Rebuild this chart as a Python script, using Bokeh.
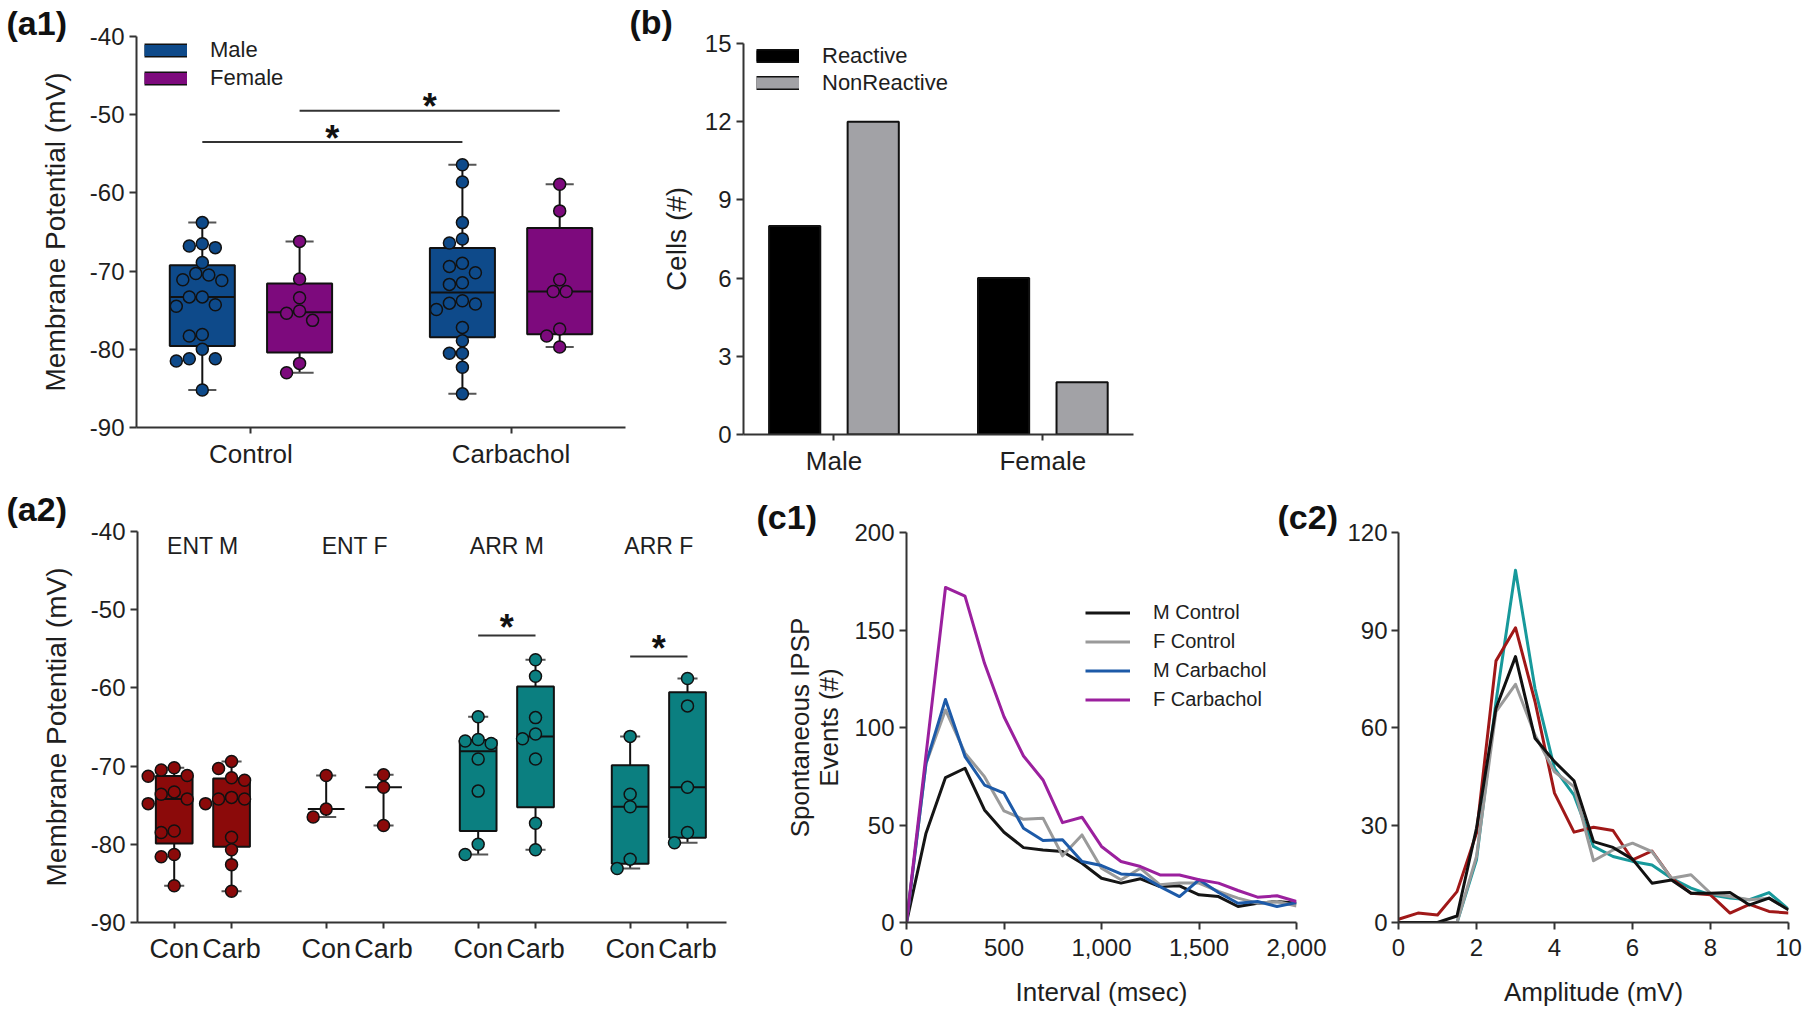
import numpy as np
from bokeh.plotting import figure
from bokeh.models import (Range1d, FixedTicker, NumeralTickFormatter, Legend,
                          LegendItem, Title)
from bokeh.layouts import row, column
from bokeh.core.properties import value
from bokeh.embed import file_html
from bokeh.resources import INLINE

# ------------------------------------------------------------------ data
# (a1) resting membrane potential, mV
a1_categories = ["Control", "Carbachol"]
male_control = [-63.8, -67.0, -66.8, -66.5, -68.9, -70.5, -71.1, -71.2, -70.3, -73.3,
                -73.3, -74.3, -74.5, -78.3, -78.1, -80.0, -81.2, -81.2, -81.5, -85.2]
female_control = [-66.2, -71.0, -73.4, -75.1, -75.4, -76.3, -81.8, -83.0]
male_carbachol = [-56.4, -58.6, -63.8, -65.9, -66.4, -69.0, -69.4, -70.2, -71.5, -71.7,
                  -74.1, -74.2, -74.9, -73.8, -77.2, -78.9, -80.5, -80.5, -82.3, -85.7]
female_carbachol = [-58.9, -62.3, -71.1, -72.6, -72.6, -77.4, -78.3, -79.7]

# (b) reactive / non-reactive cell counts
b_categories = ["Male", "Female"]
reactive = [8, 6]
nonreactive = [12, 2]

# (a2) by region and sex
a2_groups = ["ENT M", "ENT F", "ARR M", "ARR F"]
a2_conditions = ["Con", "Carb"]
ent_m_con = [-70.2, -70.5, -71.2, -71.3, -73.3, -73.6, -74.2, -74.8, -78.3, -78.5,
             -81.3, -81.6, -85.3]
ent_m_carb = [-69.4, -70.3, -71.5, -71.8, -74.0, -74.2, -74.2, -74.8, -79.1, -80.7,
              -82.6, -86.0]
ent_f_con = [-71.2, -75.5, -76.5]
ent_f_carb = [-71.1, -72.7, -77.6]
arr_m_con = [-63.7, -66.6, -66.8, -67.1, -69.1, -73.2, -80.0, -81.3]
arr_m_carb = [-56.4, -58.5, -63.8, -65.9, -66.5, -69.1, -77.3, -80.7]
arr_f_con = [-66.2, -73.6, -75.2, -81.9, -83.1]
arr_f_carb = [-58.8, -62.3, -72.7, -78.5, -79.8]

# (c1) inter-event interval histogram
interval_ms = [0, 100, 200, 300, 400, 500, 600, 700, 800, 900, 1000,
               1100, 1200, 1300, 1400, 1500, 1600, 1700, 1800, 1900, 2000]
m_control = [0, 45.8, 74.3, 79.1, 57.7, 46.3, 38.4, 37.2, 36.4, 30.4, 22.7,
             20.2, 22.4, 18.4, 18.8, 14.2, 13.3, 8.2, 9.9, 10.8, 9.9]
f_control = [0, 81.6, 109.0, 86.8, 74.8, 57.2, 52.9, 53.5, 34.2, 44.9, 27.8,
             21.9, 27.8, 19.3, 20.2, 20.2, 15.9, 12.5, 9.9, 10.8, 8.5]
m_carbachol = [0, 81.6, 114.4, 85.1, 70.5, 66.3, 48.3, 42.0, 42.4, 31.3, 29.2,
               24.9, 24.4, 18.4, 13.3, 21.9, 15.4, 9.9, 10.8, 8.2, 10.2]
f_carbachol = [0, 86.0, 171.8, 167.4, 132.9, 105.5, 85.4, 73.1, 51.2, 54.0, 39.0,
               31.3, 28.7, 24.4, 24.4, 21.9, 20.2, 16.4, 13.0, 13.7, 10.8]
c1_labels = ["M Control", "F Control", "M Carbachol", "F Carbachol"]

# (c2) amplitude histogram
amplitude_mv = [0, 0.5, 1, 1.5, 2, 2.5, 3, 3.5, 4, 4.5, 5,
                5.5, 6, 6.5, 7, 7.5, 8, 8.5, 9, 9.5, 10]
amp_teal = [0, 0, 0, 0, 19.3, 68.0, 108.4, 72.0, 47.4, 39.2, 23.4,
            20.3, 18.8, 17.7, 13.6, 10.6, 8.5, 7.5, 7.0, 9.2, 4.1]
amp_red = [1.0, 2.9, 2.3, 9.5, 27.5, 80.5, 90.7, 68.0, 39.8, 27.8, 29.3,
           28.3, 19.3, 22.0, 13.6, 9.0, 8.5, 2.9, 5.6, 3.4, 2.9]
amp_gray = [0, 0, 0, 0, 20.3, 64.9, 73.3, 57.7, 46.4, 41.8, 19.0,
            22.3, 24.4, 21.8, 13.6, 14.7, 9.0, 8.0, 7.0, 7.5, 3.9]
amp_black = [0, 0, 0, 2.0, 29.0, 65.9, 81.8, 56.7, 49.5, 43.6, 24.9,
             23.1, 19.5, 12.1, 13.1, 9.0, 9.0, 9.2, 5.4, 7.5, 3.9]

panel_tags = ["(a1)", "(b)", "(a2)", "(c1)", "(c2)"]

# ------------------------------------------------------------------ style
FONT = "Liberation Sans"
INK = "#1e1e1e"
AX = "#333333"
LINE = "#111111"
MALE = "#0e4a8a"
FEMALE = "#7d0a7d"
ENT = "#8b0a0a"
ARR = "#0b7f80"
NAN = [float("nan")]


def make_fig(xr, yr, fw, fh, bl, br, bt, bb):
    kw = dict(x_range=xr, y_range=yr, frame_width=fw, frame_height=fh,
              min_border_left=bl, min_border_right=br, min_border_top=bt,
              min_border_bottom=bb, output_backend="svg", toolbar_location=None,
              tools="")
    try:
        p = figure(frame_align=False, **kw)
    except Exception:
        p = figure(**kw)
    p.xgrid.visible = False
    p.ygrid.visible = False
    p.outline_line_color = None
    for ax in (p.xaxis[0], p.yaxis[0]):
        ax.axis_line_color = AX
        ax.axis_line_width = 2
        ax.major_tick_line_color = AX
        ax.major_tick_line_width = 2
        ax.major_tick_in = 0
        ax.major_tick_out = 7
        ax.minor_tick_line_color = None
        ax.major_label_text_font = FONT
        ax.major_label_text_color = INK
        ax.major_label_text_font_size = "24px"
        ax.major_label_standoff = 5
        ax.axis_label_text_font = FONT
        ax.axis_label_text_font_style = "normal"
        ax.axis_label_text_color = INK
    return p


def panel_title(p, text, offset, standoff):
    kw = dict(text=text, align="left", vertical_align="middle", offset=offset,
              text_font=FONT, text_font_style="bold", text_font_size="34px",
              text_color="#111111")
    try:
        t = Title(standoff=standoff, **kw)
    except ValueError:
        t = Title(standoff=0, **kw)
    p.add_layout(t, "above")


def swarm(vals, px_per_x, px_per_y, diam=12.5, step=6.5):
    order = sorted(range(len(vals)), key=lambda i: -vals[i])
    cands = [0.0]
    for m in range(1, 14):
        cands += [-m * step, m * step]
    placed = []
    out = [0.0] * len(vals)
    for i in order:
        yy = vals[i] * px_per_y
        chosen = cands[-1]
        for c in cands:
            if all((c - a) ** 2 + (yy - b) ** 2 >= diam ** 2 for a, b in placed):
                chosen = c
                break
        placed.append((chosen, yy))
        out[i] = chosen / px_per_x
    return out


def draw_box(p, x, vals, color, box_w, cap_w, ppx, ppy, dot=12):
    q1, med, q3 = np.percentile(vals, [25, 50, 75], method="weibull")
    lo, hi = min(vals), max(vals)
    if len(vals) >= 4:
        p.segment(x0=[x, x], y0=[lo, q3], x1=[x, x], y1=[q1, hi],
                  line_color=LINE, line_width=2)
    else:
        p.segment(x0=[x], y0=[lo], x1=[x], y1=[hi], line_color=LINE, line_width=2)
    p.segment(x0=[x - cap_w / 2, x - cap_w / 2], y0=[lo, hi],
              x1=[x + cap_w / 2, x + cap_w / 2], y1=[lo, hi],
              line_color="#555555", line_width=2)
    if len(vals) >= 4:
        p.quad(left=[x - box_w / 2], right=[x + box_w / 2], bottom=[q1], top=[q3],
               fill_color=color, line_color=LINE, line_width=2)
    p.segment(x0=[x - box_w / 2], y0=[med], x1=[x + box_w / 2], y1=[med],
              line_color=LINE, line_width=2)
    offs = swarm(vals, ppx, ppy)
    p.scatter([x + o for o in offs], vals, size=dot, fill_color=color,
              line_color=LINE, line_width=1.5)


def patch_legend(p, entries, x, y, glyph_w, standoff, row_h, size):
    items = []
    for label, color in entries:
        r1 = p.line(x=NAN, y=NAN, line_color=LINE, line_width=14)
        r2 = p.line(x=NAN, y=NAN, line_color=color, line_width=11)
        items.append(LegendItem(label=label, renderers=[r1, r2]))
    leg = Legend(items=items, location=(x, y), padding=0, margin=0, spacing=0,
                 border_line_color=None, background_fill_alpha=0,
                 glyph_width=glyph_w, glyph_height=row_h, label_height=row_h,
                 label_standoff=standoff, label_text_font=FONT,
                 label_text_font_size=size, label_text_color=INK)
    p.add_layout(leg)


# ------------------------------------------------------------------ (a1)
pa1 = make_fig(Range1d(0.56, 2.44), Range1d(-90, -40), 489, 391, 136, 3, 36, 51)
pa1.yaxis.ticker = FixedTicker(ticks=[-90, -80, -70, -60, -50, -40])
pa1.yaxis.major_label_overrides = {t: str(t) for t in [-90, -80, -70, -60, -50, -40]}
pa1.xaxis.ticker = FixedTicker(ticks=[1, 2])
pa1.xaxis.major_label_overrides = {1: a1_categories[0], 2: a1_categories[1]}
pa1.xaxis.major_label_text_font_size = "26px"
pa1.xaxis.major_tick_out = 6
pa1.yaxis.axis_label = "Membrane Potential (mV)"
pa1.yaxis.axis_label_text_font_size = "28px"
pa1.yaxis.axis_label_standoff = 16
off = 0.187
A1_PPX, A1_PPY = 489 / 1.88, 391 / 50
draw_box(pa1, 1 - off, male_control, MALE, 0.25, 0.108, A1_PPX, A1_PPY)
draw_box(pa1, 1 + off, female_control, FEMALE, 0.25, 0.108, A1_PPX, A1_PPY)
draw_box(pa1, 2 - off, male_carbachol, MALE, 0.25, 0.108, A1_PPX, A1_PPY)
draw_box(pa1, 2 + off, female_carbachol, FEMALE, 0.25, 0.108, A1_PPX, A1_PPY)
pa1.segment(x0=[1 - off, 1 + off], y0=[-53.5, -49.5], x1=[2 - off, 2 + off],
            y1=[-53.5, -49.5], line_color=AX, line_width=2)
pa1.text(x=[1.5 - off, 1.5 + off], y=[-53.0, -49.0], text=["*", "*"],
         text_font=value(FONT), text_font_style="bold", text_font_size="36px",
         text_align="center", text_baseline="alphabetic", text_color="#111111")
patch_legend(pa1, [("Male", MALE), ("Female", FEMALE)], 8, 335, 43, 23, 28, "22px")
panel_title(pa1, panel_tags[0], -130, -13)

# ------------------------------------------------------------------ (b)
pb = make_fig(Range1d(0.567, 2.434), Range1d(0, 15), 390, 391, 115, 27, 42, 45)
pb.yaxis.ticker = FixedTicker(ticks=[0, 3, 6, 9, 12, 15])
pb.xaxis.ticker = FixedTicker(ticks=[1, 2])
pb.xaxis.major_label_overrides = {1: b_categories[0], 2: b_categories[1]}
pb.xaxis.major_label_text_font_size = "26px"
pb.xaxis.major_tick_out = 6
pb.yaxis.axis_label = "Cells (#)"
pb.yaxis.axis_label_text_font_size = "28px"
pb.yaxis.axis_label_standoff = 10
bx = [1, 2]
pb.vbar(x=[v - 0.188 for v in bx], top=reactive, width=0.245, bottom=0,
        fill_color="#000000", line_color=LINE, line_width=2)
pb.vbar(x=[v + 0.188 for v in bx], top=nonreactive, width=0.245, bottom=0,
        fill_color="#a2a2a6", line_color=LINE, line_width=2)
patch_legend(pb, [("Reactive", "#000000"), ("NonReactive", "#a2a2a6")],
             13, 338, 43, 23, 27, "22px")
panel_title(pb, panel_tags[1], -114, 3)

# ------------------------------------------------------------------ (a2)
pa2 = make_fig(Range1d(-12.8, 192.6), Range1d(-90, -40), 589, 391, 137, 24, 52, 91)
pa2.yaxis.ticker = FixedTicker(ticks=[-90, -80, -70, -60, -50, -40])
pa2.yaxis.major_label_overrides = {t: str(t) for t in [-90, -80, -70, -60, -50, -40]}
a2_ticks = [53 * g + 20 * k for g in range(4) for k in range(2)]
pa2.xaxis.ticker = FixedTicker(ticks=a2_ticks)
pa2.xaxis.major_label_overrides = {t: a2_conditions[i % 2] for i, t in enumerate(a2_ticks)}
pa2.xaxis.major_label_text_font_size = "27px"
pa2.xaxis.major_tick_out = 6
pa2.yaxis.axis_label = "Membrane Potential (mV)"
pa2.yaxis.axis_label_text_font_size = "28px"
pa2.yaxis.axis_label_standoff = 16
A2_PPX, A2_PPY = 589 / 205.4, 391 / 50
a2_sets = [(ent_m_con, ent_m_carb, ENT), (ent_f_con, ent_f_carb, ENT),
           (arr_m_con, arr_m_carb, ARR), (arr_f_con, arr_f_carb, ARR)]
for g, (con, carb, col) in enumerate(a2_sets):
    draw_box(pa2, 53 * g, con, col, 12.8, 7, A2_PPX, A2_PPY)
    draw_box(pa2, 53 * g + 20, carb, col, 12.8, 7, A2_PPX, A2_PPY)
pa2.text(x=[53 * g + 10 for g in range(4)], y=[-41.9] * 4, text=a2_groups,
         text_font=value(FONT), text_font_size="23px", text_align="center",
         text_baseline="middle", text_color=INK)
pa2.segment(x0=[106, 159], y0=[-53.3, -56.0], x1=[126, 179], y1=[-53.3, -56.0],
            line_color=AX, line_width=2)
pa2.text(x=[116, 169], y=[-52.25, -54.95], text=["*", "*"], text_font=value(FONT),
         text_font_style="bold", text_font_size="36px", text_align="center",
         text_baseline="alphabetic", text_color="#111111")
panel_title(pa2, panel_tags[2], -131, 5)

# ------------------------------------------------------------------ (c1)
pc1 = make_fig(Range1d(0, 2000), Range1d(0, 200), 390, 390, 156, 49, 53, 91)
pc1.xaxis.ticker = FixedTicker(ticks=[0, 500, 1000, 1500, 2000])
pc1.xaxis.formatter = NumeralTickFormatter(format="0,0")
pc1.xaxis.major_label_standoff = 9
pc1.yaxis.ticker = FixedTicker(ticks=[0, 50, 100, 150, 200])
pc1.xaxis.axis_label = "Interval (msec)"
pc1.xaxis.axis_label_text_font_size = "26px"
pc1.xaxis.axis_label_standoff = 18
pc1.yaxis.axis_label = "Spontaneous IPSP\nEvents (#)"
pc1.yaxis.axis_label_text_font_size = "26px"
pc1.yaxis.axis_label_text_line_height = 0.97
pc1.yaxis.axis_label_standoff = 7
c1_series = [m_control, f_control, m_carbachol, f_carbachol]
c1_colors = ["#151515", "#9a9a9a", "#1d5aa8", "#9b209e"]
c1_rends = []
for ys, col in zip(c1_series, c1_colors):
    c1_rends.append(pc1.line(interval_ms, ys, line_color=col, line_width=3,
                             line_join="round"))
leg = Legend(items=[LegendItem(label=l, renderers=[r]) for l, r in zip(c1_labels, c1_rends)],
             location=(179, 208), padding=0, margin=0, spacing=0,
             border_line_color=None, background_fill_alpha=0,
             glyph_width=45, glyph_height=29, label_height=29, label_standoff=23,
             label_text_font=FONT, label_text_font_size="20px", label_text_color=INK)
pc1.add_layout(leg)
panel_title(pc1, panel_tags[3], -150, -9)

# ------------------------------------------------------------------ (c2)
# c2's canvas starts 70 px inside c1's right border (transparent), so that its
# panel tag can sit where the reference has it.
pc2 = make_fig(Range1d(0, 10), Range1d(0, 120), 390, 390, 123, 14, 53, 91)
pc2.border_fill_alpha = 0
pc2.xaxis.ticker = FixedTicker(ticks=[0, 2, 4, 6, 8, 10])
pc2.xaxis.major_label_standoff = 9
pc2.yaxis.ticker = FixedTicker(ticks=[0, 30, 60, 90, 120])
pc2.yaxis.major_label_standoff = 4
pc2.xaxis.axis_label = "Amplitude (mV)"
pc2.xaxis.axis_label_text_font_size = "26px"
pc2.xaxis.axis_label_standoff = 18
for ys, col in zip([amp_teal, amp_red, amp_gray, amp_black],
                   ["#17999b", "#a01818", "#9a9a9a", "#111111"]):
    pc2.line(amplitude_mv, ys, line_color=col, line_width=3, line_join="round")
panel_title(pc2, panel_tags[4], -121, -9)
try:
    pc2.margin = (0, 0, 0, -70)
except Exception:
    pc2.styles = {"margin-left": "-70px"}

layout = column(row(pa1, pb, spacing=0), row(pa2, pc1, pc2, spacing=0), spacing=0)
open("out.html", "w").write(file_html(layout, INLINE))
